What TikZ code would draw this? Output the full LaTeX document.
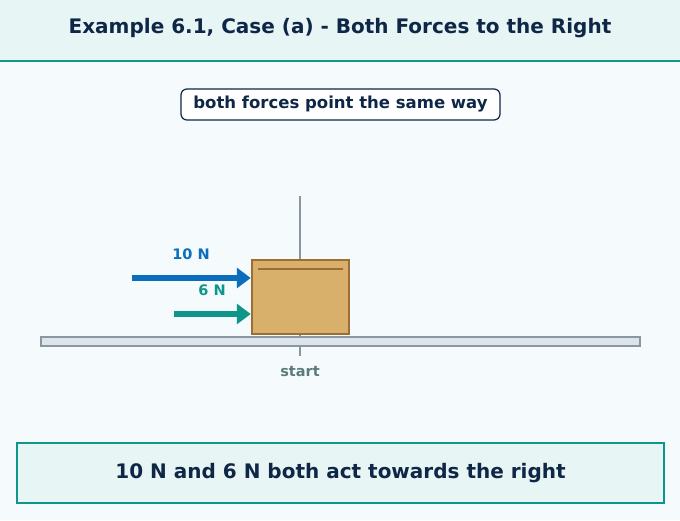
\documentclass[tikz,border=0pt]{standalone}
\usepackage{fontspec}
\setmainfont{DejaVu Sans}
\usetikzlibrary{positioning}
\usetikzlibrary{shapes.misc}
\usetikzlibrary{arrows.meta}
\definecolor{navy}{HTML}{0F2747}
\definecolor{teal}{HTML}{0E968A}
\definecolor{pale}{HTML}{E8F5F5}
\definecolor{bgc}{HTML}{F5FAFD}
\definecolor{rule}{HTML}{8A96A0}
\definecolor{track}{HTML}{DDE3EA}
\definecolor{wood}{HTML}{D8B06C}
\definecolor{woodline}{HTML}{9A6E35}
\definecolor{blueF}{HTML}{0A6EBD}
\definecolor{greyT}{HTML}{5B7B7A}
\tikzstyle{force} = [line width=6pt, -{Triangle[length=14pt, width=20pt]}]
\tikzstyle{flabel} = [font=\bfseries\fontsize{14.5}{17}\selectfont]
\tikzstyle{block} = [draw=woodline, fill=wood, line width=2.5pt, chamfered rectangle, chamfered rectangle corners=all, chamfered rectangle xsep=3pt, minimum width=97pt, minimum height=74pt, inner sep=0pt]
\begin{document}
\begin{tikzpicture}[x=1pt, y=-1pt]
\fill[bgc] (0,0) rectangle (680,520);
\useasboundingbox (0,0) rectangle (680,520);
\fill[pale] (0,0) rectangle (680,61);
\draw[teal, line width=2.5pt] (0,61) -- (680,61);
\node[font=\bfseries\fontsize{20}{24}\selectfont, text=navy] (title) at (340,28) {Example 6.1, Case (a) - Both Forces to the Right};
\node[draw=navy, fill=white, rounded corners=6pt, line width=1.2pt, minimum width=319pt, minimum height=31pt, font=\bfseries\fontsize{16.5}{19}\selectfont, text=navy] (note) at (340.5,104.5) {both forces point the same way};
% track and start mark
\coordinate (mtop) at (300,196);
\coordinate (mbot) at (300,356);
\draw[rule, line width=1.5pt] (mtop) -- (mbot);
\draw[rule, fill=track, line width=1.5pt] (41,337) rectangle (640,346);
\node[block] (box) at (300.5,297) {};
\draw[woodline, line width=2pt] ([xshift=6pt, yshift=-10pt]box.north west) -- ([xshift=-6pt, yshift=-10pt]box.north east);
\node[font=\bfseries\fontsize{14.5}{17}\selectfont, text=greyT] (start) at (300,372) {start};
% forces
\coordinate (t10) at (132,278);
\coordinate (t6) at (174,314);
\draw[force, blueF] (t10) -- (t10 -| box.west);
\draw[force, teal] (t6) -- (t6 -| box.west);
\node[flabel, text=blueF] (l10) at (191,254) {10 N};
\node[flabel, text=teal] (l6) at (212,290) {6 N};
% caption
\node[draw=teal, fill=pale, line width=1.5pt, minimum width=647pt, minimum height=60pt, font=\bfseries\fontsize{20}{24}\selectfont, text=navy] (caption) at (340.5,473) {10 N and 6 N both act towards the right};
\end{tikzpicture}
\end{document}
